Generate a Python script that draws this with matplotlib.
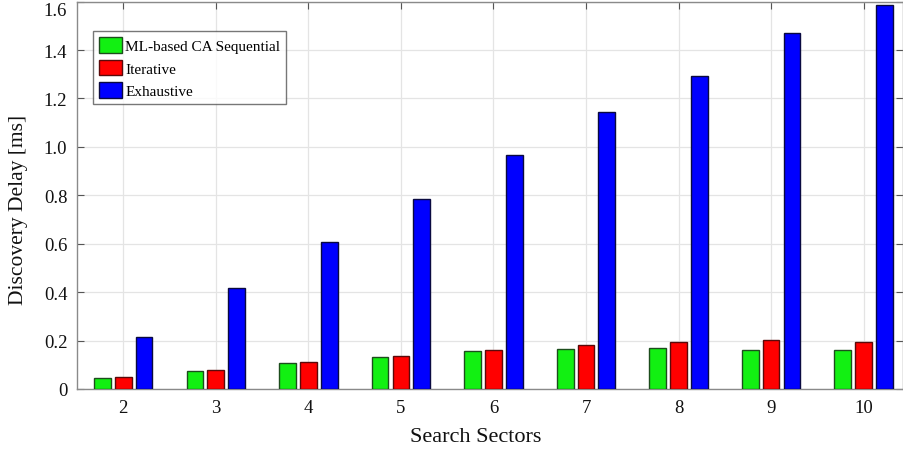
import matplotlib
matplotlib.use("Agg")
import matplotlib.pyplot as plt
import numpy as np

sectors = [2, 3, 4, 5, 6, 7, 8, 9, 10]
ml_ca_sequential = [0.045, 0.075, 0.107, 0.132, 0.156, 0.165, 0.170, 0.162, 0.162]
iterative = [0.048, 0.077, 0.110, 0.136, 0.160, 0.183, 0.195, 0.202, 0.194]
exhaustive = [0.213, 0.416, 0.608, 0.784, 0.967, 1.142, 1.294, 1.471, 1.587]
series_names = ["ML-based CA Sequential", "Iterative", "Exhaustive"]
y_ticks = [0, 0.2, 0.4, 0.6, 0.8, 1.0, 1.2, 1.4, 1.6]
y_tick_labels = ["0", "0.2", "0.4", "0.6", "0.8", "1.0", "1.2", "1.4", "1.6"]

plt.rcParams["font.family"] = ["Liberation Serif", "DejaVu Serif"]

W, H = 904, 456
fig = plt.figure(figsize=(W / 100, H / 100), dpi=100)
ax = fig.add_axes([77 / W, (H - 390) / H, 825.5 / W, 387.4 / H])

x = np.array(sectors, dtype=float)
offset = 0.225
width = 0.18
fills = ["#12f012", "#ff0000", "#0000ff"]
edges = ["#1d4d1d", "#5a0a0a", "#0a0a40"]
for i, (vals, name) in enumerate(zip([ml_ca_sequential, iterative, exhaustive], series_names)):
    ax.bar(x + (i - 1) * offset, vals, width, color=fills[i], edgecolor=edges[i],
           linewidth=1.0, label=name, zorder=3)

ax.set_xlim(1.5, 10.42)
ax.set_ylim(0, 1.6)
ax.set_xticks(sectors)
ax.set_xticklabels([str(s) for s in sectors], fontsize=13.5)
ax.set_yticks(y_ticks)
ylabels = ax.set_yticklabels(y_tick_labels, fontsize=13.5)
# keep the top label inside the figure
ylabels[-1].set_va("top")

ax.grid(True, color="#e4e4e4", linewidth=0.9, zorder=0)
ax.set_axisbelow(True)
for sp in ax.spines.values():
    sp.set_color("#8a8a8a")
    sp.set_linewidth(1.0)
ax.tick_params(direction="in", top=True, right=True, length=5, color="#555555",
               pad=7, labelcolor="#111111")

ax.set_xlabel("Search Sectors", fontsize=16, color="#111111")
ax.xaxis.set_label_coords((476 - 77) / 825.5, -(438 - 390) / 387.4)
ax.xaxis.label.set_va("center")
ax.set_ylabel("Discovery Delay [ms]", fontsize=15.5, color="#111111")
ax.yaxis.set_label_coords(-(77 - 19) / 825.5, (390 - 210) / 387.4)
ax.yaxis.label.set_va("center")

leg = ax.legend(loc="upper left", bbox_to_anchor=((93 - 77) / 825.5, 1 - (32 - 2.6) / 387.4),
                fontsize=11, frameon=True, fancybox=False, edgecolor="#555555",
                handlelength=1.5, handleheight=1.18, handletextpad=0.2,
                labelspacing=0.44, borderpad=0.4, borderaxespad=0)
leg.get_frame().set_linewidth(1.0)

fig.savefig("out.png", dpi=100)
